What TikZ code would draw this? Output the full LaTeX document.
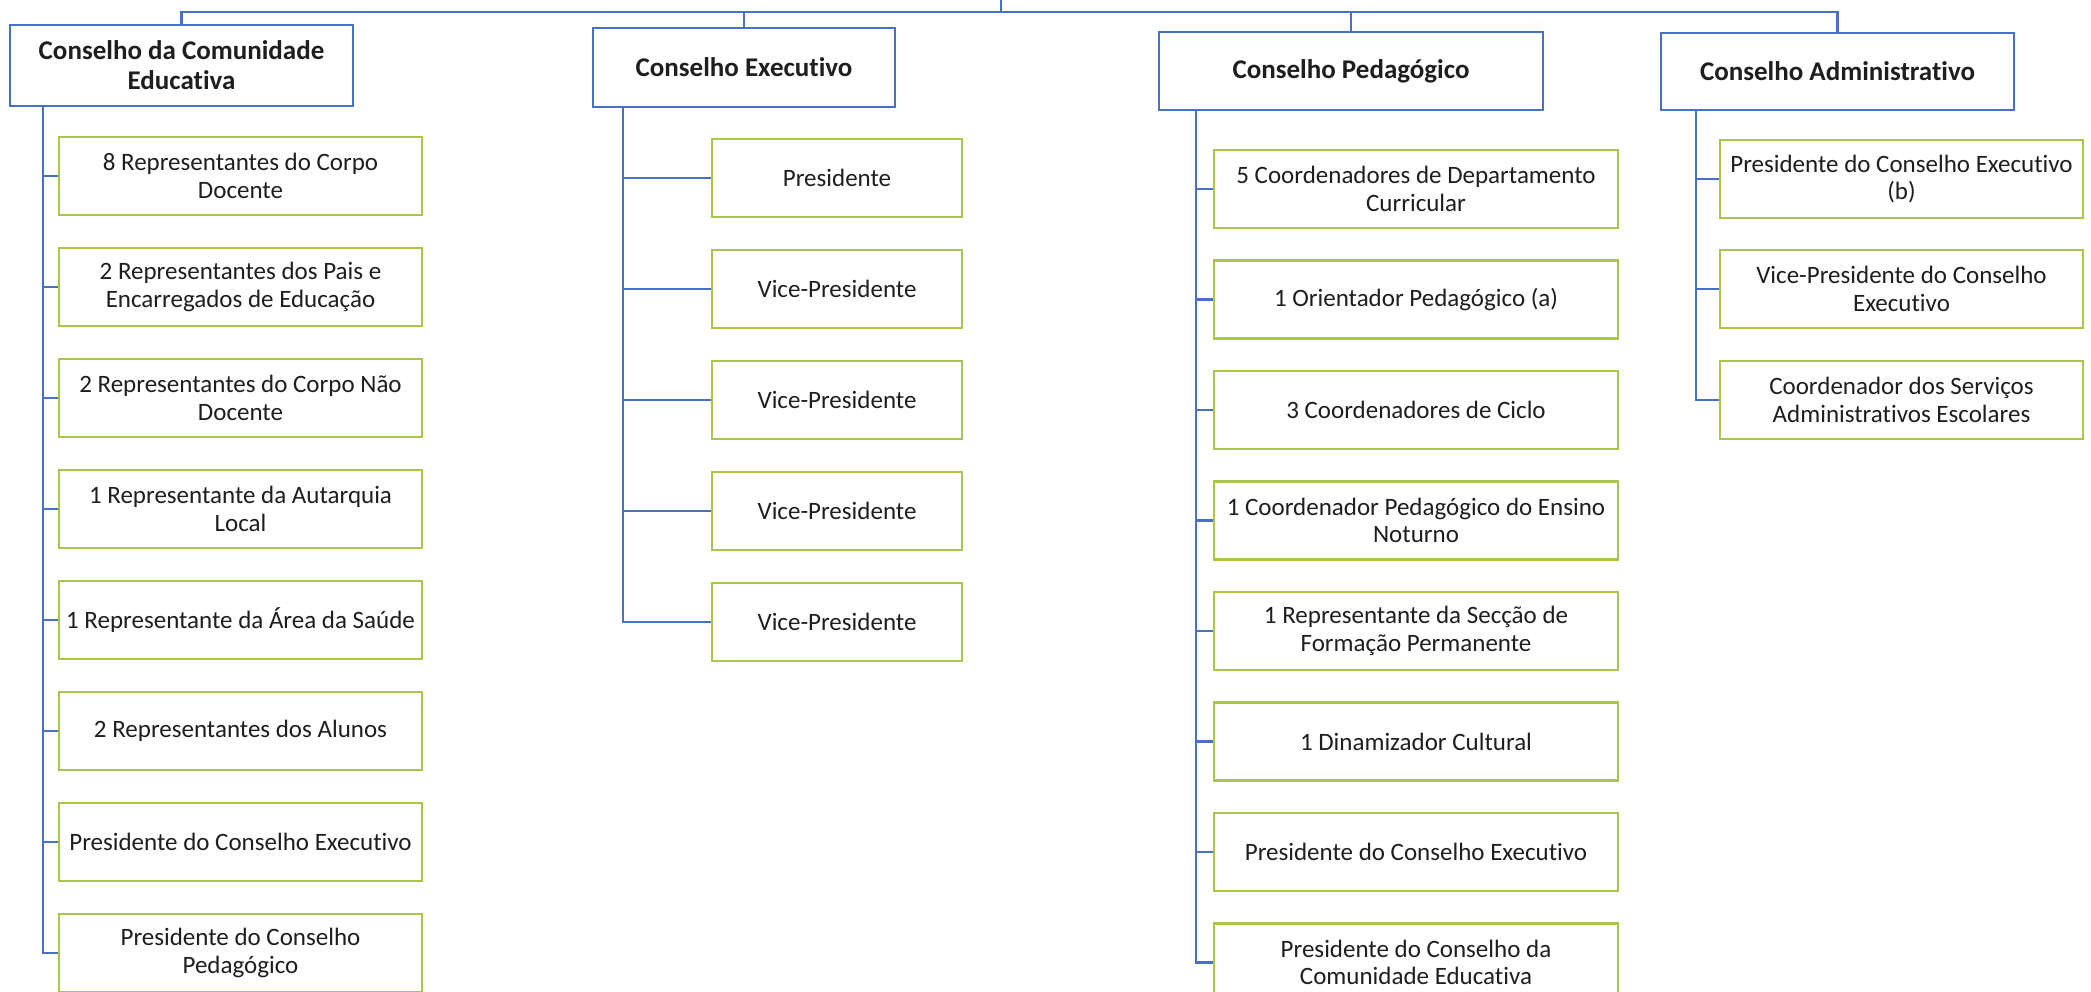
\documentclass[tikz,border=0pt]{standalone}
\usepackage{fontspec}
\setmainfont{Carlito}[Ligatures=NoCommon]
\definecolor{boxblue}{RGB}{72,112,196}
\definecolor{boxgreen}{RGB}{170,198,72}
\definecolor{txt}{RGB}{30,30,30}
\begin{document}
\begin{tikzpicture}[x=1pt,y=-1pt,
  head/.style={draw=boxblue, line width=2.2pt, fill=white, align=center, text=txt,
    font=\bfseries\fontsize{27}{30}\selectfont, inner sep=0pt},
  member/.style={draw=boxgreen, line width=2.2pt, fill=white, align=center, text=txt,
    font=\fontsize{25}{27.5}\selectfont, inner sep=0pt, minimum height=78pt},
  link/.style={draw=boxblue, line width=2.2pt}]
\useasboundingbox (0,0) rectangle (2091,992);
\fill[white] (0,0) rectangle (2091,992);

% top-level boxes
\node[head, minimum width=343pt, minimum height=81pt] (cce) at (181.5,65.5) {Conselho da Comunidade\\Educativa};
\node[head, minimum width=302pt, minimum height=79pt] (ce) at (744,67.5) {Conselho Executivo};
\node[head, minimum width=384pt, minimum height=78pt] (cp) at (1351,71) {Conselho Pedagógico};
\node[head, minimum width=353pt, minimum height=77pt] (ca) at (1837.5,71.5) {Conselho Administrativo};

% Conselho da Comunidade Educativa
\begin{scope}[every node/.style={member, minimum width=363pt}]
\node (cce1) at (240.5,176) {8 Representantes do Corpo\\Docente};
\node (cce2) at (240.5,287) {2 Representantes dos Pais e\\Encarregados de Educação};
\node (cce3) at (240.5,398) {2 Representantes do Corpo Não\\Docente};
\node (cce4) at (240.5,509) {1 Representante da Autarquia\\Local};
\node (cce5) at (240.5,620) {1 Representante da Área da Saúde};
\node (cce6) at (240.5,731) {2 Representantes dos Alunos};
\node (cce7) at (240.5,842) {Presidente do Conselho Executivo};
\node (cce8) at (240.5,953) {Presidente do Conselho\\Pedagógico};
\end{scope}

% Conselho Executivo
\begin{scope}[every node/.style={member, minimum width=250pt}]
\node (ce1) at (837,178) {Presidente};
\node (ce2) at (837,289) {Vice-Presidente};
\node (ce3) at (837,400) {Vice-Presidente};
\node (ce4) at (837,511) {Vice-Presidente};
\node (ce5) at (837,622) {Vice-Presidente};
\end{scope}

% Conselho Pedagógico
\begin{scope}[every node/.style={member, minimum width=404pt}]
\node (cp1) at (1416,189) {5 Coordenadores de Departamento\\Curricular};
\node (cp2) at (1416,299.5) {1 Orientador Pedagógico (a)};
\node (cp3) at (1416,410) {3 Coordenadores de Ciclo};
\node (cp4) at (1416,520.5) {1 Coordenador Pedagógico do Ensino\\Noturno};
\node (cp5) at (1416,631) {1 Representante da Secção de\\Formação Permanente};
\node (cp6) at (1416,741.5) {1 Dinamizador Cultural};
\node (cp7) at (1416,852) {Presidente do Conselho Executivo};
\node (cp8) at (1416,962.5) {Presidente do Conselho da\\Comunidade Educativa};
\end{scope}

% Conselho Administrativo
\begin{scope}[every node/.style={member, minimum width=363pt}]
\node (ca1) at (1901.5,179) {Presidente do Conselho Executivo\\(b)};
\node (ca2) at (1901.5,289) {Vice-Presidente do Conselho\\Executivo};
\node (ca3) at (1901.5,400) {Coordenador dos Serviços\\Administrativos Escolares};
\end{scope}

% top connectors
\coordinate (root) at (1001,0);
\coordinate (bar) at (1001,12);
\draw[link] (root) -- (bar);
\draw[link] (cce.north) |- (bar) -| (ca.north);
\draw[link] (ce.north) -- (ce.north |- bar);
\draw[link] (cp.north) -- (cp.north |- bar);

% spines
\foreach \i in {1,...,8} \draw[link] ([xshift=34pt]cce.south west) |- (cce\i.west);
\foreach \i in {1,...,5} \draw[link] ([xshift=31pt]ce.south west) |- (ce\i.west);
\foreach \i in {1,...,8} \draw[link] ([xshift=38pt]cp.south west) |- (cp\i.west);
\foreach \i in {1,...,3} \draw[link] ([xshift=36pt]ca.south west) |- (ca\i.west);
\end{tikzpicture}
\end{document}
